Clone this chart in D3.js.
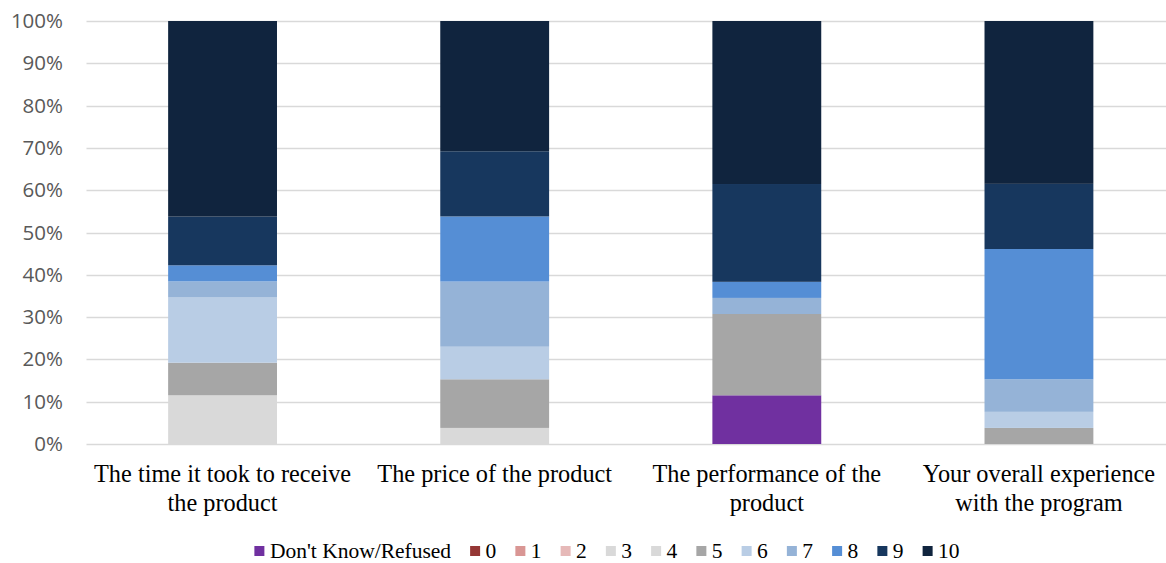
<!DOCTYPE html>
<html>
<head>
<meta charset="utf-8">
<script src="https://cdn.jsdelivr.net/npm/d3@7"></script>
<style>
  html, body { margin: 0; padding: 0; background: #fff; }
  svg { display: block; }
</style>
</head>
<body>
<svg id="chart" width="1166" height="563"></svg>
<script>
// Survey satisfaction ratings (share of respondents, %)
const categories = [
  "The time it took to receive the product",
  "The price of the product",
  "The performance of the product",
  "Your overall experience with the program"
];
const seriesNames = ["Don't Know/Refused", "0", "1", "2", "3", "4", "5", "6", "7", "8", "9", "10"];
const dontKnow = [0, 0, 11.5, 0];
const r0  = [0, 0, 0, 0];
const r1  = [0, 0, 0, 0];
const r2  = [0, 0, 0, 0];
const r3  = [0, 0, 0, 0];
const r4  = [11.5, 3.8, 0, 0];
const r5  = [7.7, 11.5, 19.2, 3.8];
const r6  = [15.4, 7.7, 0, 3.8];
const r7  = [3.8, 15.4, 3.8, 7.7];
const r8  = [3.8, 15.4, 3.8, 30.8];
const r9  = [11.5, 15.4, 23.1, 15.4];
const r10 = [46.2, 30.8, 38.5, 38.5];
const yTickLabels = ["0%", "10%", "20%", "30%", "40%", "50%", "60%", "70%", "80%", "90%", "100%"];
const colors = ["#7030A0", "#953735", "#D99694", "#E6B9B8", "#D9D9D9", "#D9D9D9",
                "#A6A6A6", "#B9CDE5", "#95B3D7", "#558ED5", "#17375E", "#10243E"];

const seriesValues = [dontKnow, r0, r1, r2, r3, r4, r5, r6, r7, r8, r9, r10];
const rows = categories.map((c, i) => {
  const row = { category: c };
  seriesNames.forEach((s, j) => { row[s] = seriesValues[j][i]; });
  return row;
});

const svg = d3.select("#chart");
const margin = { left: 86.5, right: -9, top: 21, bottom: 120 };
const W = 1166, H = 563;
const plotRight = W - margin.right;
const plotBottom = H - margin.bottom;

const x = d3.scaleBand()
  .domain(categories)
  .range([margin.left, plotRight])
  .paddingInner(0.6)
  .paddingOuter(0.3);

const y = d3.scaleLinear().domain([0, 1]).range([plotBottom + 1, margin.top]);

// gridlines
svg.append("g")
  .selectAll("line")
  .data(d3.range(0, 11).map(d => d / 10))
  .join("line")
  .attr("x1", margin.left)
  .attr("x2", W)
  .attr("y1", d => Math.round(y(d)) + 0.5)
  .attr("y2", d => Math.round(y(d)) + 0.5)
  .attr("stroke", "#D9D9D9")
  .attr("stroke-width", 1.5);

// y axis labels
const yAxis = d3.axisLeft(y)
  .tickValues(d3.range(0, 11).map(d => d / 10))
  .tickFormat((d, i) => yTickLabels[i])
  .tickSize(0)
  .tickPadding(0);
const yg = svg.append("g")
  .attr("transform", `translate(${63},0)`)
  .call(yAxis);
yg.select(".domain").remove();
yg.selectAll("text")
  .attr("font-family", "'Open Sans', 'Liberation Sans', sans-serif")
  .attr("font-size", 20.5)
  .attr("fill", "#595959");

// stacked bars
const stack = d3.stack().keys(seriesNames).offset(d3.stackOffsetExpand);
const layers = stack(rows);

svg.append("g")
  .selectAll("g")
  .data(layers)
  .join("g")
  .attr("fill", (d, i) => colors[i])
  .selectAll("rect")
  .data(d => d)
  .join("rect")
  .attr("x", d => x(d.data.category))
  .attr("width", x.bandwidth())
  .attr("y", d => y(d[1]))
  .attr("height", d => Math.max(0, y(d[0]) - y(d[1])));

// category labels (wrapped)
const xg = svg.append("g")
  .attr("transform", `translate(0,${plotBottom})`)
  .call(d3.axisBottom(x).tickSize(0).tickPadding(0));
xg.select(".domain").remove();
xg.selectAll("text")
  .attr("font-family", "'Liberation Serif', 'Times New Roman', serif")
  .attr("font-size", 24.3)
  .attr("fill", "#000")
  .attr("dy", 0)
  .attr("y", 0)
  .each(function (d) {
    const t = d3.select(this);
    const words = d.split(" ");
    t.text(null);
    const maxW = 268;
    let line = [];
    let lineNo = 0;
    let tspan = t.append("tspan").attr("x", 0).attr("y", 39);
    words.forEach(w => {
      line.push(w);
      tspan.text(line.join(" "));
      if (tspan.node().getComputedTextLength() > maxW && line.length > 1) {
        line.pop();
        tspan.text(line.join(" "));
        line = [w];
        lineNo++;
        tspan = t.append("tspan").attr("x", 0).attr("y", 39 + lineNo * 29).text(w);
      }
    });
  });

// legend
const legend = svg.append("g");
let cx = 0;
const items = legend.selectAll("g")
  .data(seriesNames)
  .join("g");
items.append("rect")
  .attr("width", 10).attr("height", 10)
  .attr("y", -5)
  .attr("fill", (d, i) => colors[i]);
items.append("text")
  .attr("x", 15.5)
  .attr("y", 7)
  .attr("font-family", "'Liberation Serif', 'Times New Roman', serif")
  .attr("font-size", 21.5)
  .attr("fill", "#000")
  .text(d => d);
items.each(function () {
  const g = d3.select(this);
  g.attr("transform", `translate(${cx},0)`);
  const tw = g.select("text").node().getComputedTextLength();
  cx += 15.5 + tw + 19;
});
const totalW = cx - 19;
legend.attr("transform", `translate(${(255 + 959) / 2 - totalW / 2},551)`);
</script>
</body>
</html>
